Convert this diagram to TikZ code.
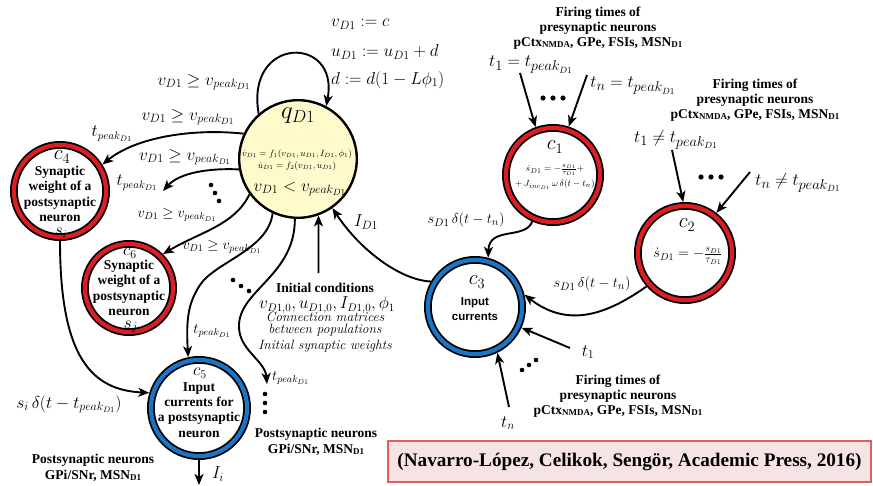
\documentclass[tikz,border=0pt]{standalone}
\usepackage{fontspec}
\usepackage{amsmath}
\usetikzlibrary{arrows.meta}
\newfontfamily\tms{Liberation Serif}
\newfontfamily\arl{Liberation Sans}
\newcommand\fsz[2]{\fontsize{#1}{#2}\selectfont}
\newcommand\vpk{v_{peak_{D1}}}
\newcommand\tpk{t_{peak_{D1}}}
\newcommand\lowsc[1]{\raisebox{-1.3pt}{\fsz{9}{9}#1}}
\definecolor{ringred}{RGB}{220,30,36}
\definecolor{ringblue}{RGB}{27,117,196}
\definecolor{qfill}{RGB}{255,250,204}
\definecolor{citefill}{RGB}{246,228,228}
\definecolor{citeline}{RGB}{224,96,96}
\tikzset{
  every node/.style={inner sep=0pt},
  arr/.style={-{Stealth[length=11pt,width=9pt,inset=3pt]}, line width=1.9pt},
  bold/.style={font=\tms\bfseries\fsz{13.5}{15.3}, align=center},
  sansbold/.style={font=\arl\bfseries\fsz{11.5}{15.5}, align=center},
  mlab/.style={font=\fsz{#1}{#1}},
  itlab/.style={font=\itshape\fsz{13.5}{12}, align=center},
  ring/.style={circle, draw=black, line width=1.8pt, double=#1,
    double distance=4.2pt, inner sep=0pt, outer sep=3.9pt},
  redring/.style={ring=ringred, minimum size=#1},
  bluering/.style={ring=ringblue, minimum size=#1},
  qstate/.style={circle, draw=black, line width=2.4pt, fill=qfill,
    minimum size=117.6pt, inner sep=0pt},
  citebox/.style={draw=citeline, line width=1.2pt, fill=citefill,
    minimum width=483pt, minimum height=41pt,
    font=\tms\bfseries\fsz{19.2}{20}},
  dot/.style={fill=black}
}
\begin{document}
\begin{tikzpicture}[x=1pt,y=-1pt]
\useasboundingbox (0,0) rectangle (873,485);

% ---------------- states ----------------
\node[qstate] (q) at (298,159) {};
\node[mlab=23] (qname) at (298,116) {$q_{D1}$};
\node[font=\fsz{9}{11.5}, align=center] (qeq) at (297,160)
  {$\dot v_{D1}=f_1(v_{D1},u_{D1},I_{D1},\phi_1)$\\$\dot u_{D1}=f_2(v_{D1},u_{D1})$};
\node[mlab=18] (qinv) at (300,189) {$v_{D1}<\vpk$};

\node[redring=92.2pt] (c4) at (60,191) {};
\node[mlab=22] (c4n) at (62,157) {$c_4$};
\node[bold] (c4t) at (60,194) {Synaptic\\weight of a\\postsynaptic\\neuron};
\node[mlab=17] (c4s) at (61,233) {$s_i$};

\node[redring=88.2pt] (c6) at (129,288) {};
\node[mlab=18] (c6n) at (130,253) {$c_6$};
\node[bold] (c6t) at (129,288) {Synaptic\\weight of a\\postsynaptic\\neuron};
\node[mlab=17] (c6s) at (131,327) {$s_j$};

\node[bluering=96.2pt] (c5) at (199,408) {};
\node[mlab=18] (c5n) at (200,373) {$c_5$};
\node[bold] (c5t) at (199,410) {Input\\currents for\\a postsynaptic\\neuron};

\node[bluering=94.2pt] (c3) at (475,307) {};
\node[mlab=22] (c3n) at (477,282) {$c_3$};
\node[sansbold] (c3t) at (475,309) {Input\\currents};

\node[redring=94.2pt] (c1) at (553,175) {};
\node[mlab=22] (c1n) at (555,147) {$c_1$};
\node[font=\fsz{9.5}{15}, align=center] (c1eq) at (555,177)
  {$\dot s_{D1}=-\frac{s_{D1}}{\tau_{D1}}+$\\$+\,J_{inc_{D1}}\,\omega\,\delta(t-t_n)$};

\node[redring=94.2pt] (c2) at (685,253) {};
\node[mlab=22] (c2n) at (687,225) {$c_2$};
\node[mlab=14] (c2eq) at (688,256) {$\dot s_{D1}=-\frac{s_{D1}}{\tau_{D1}}$};

% ---------------- reset map of q ----------------
\draw[arr] (q.131) .. controls (245,35) and (340,35) .. (q.62);
\node[mlab=18, anchor=west] (r1) at (331,24) {$v_{D1}:=c$};
\node[mlab=18, anchor=west] (r2) at (331,52) {$u_{D1}:=u_{D1}+d$};
\node[mlab=18, anchor=west] (r3) at (331,80) {$d:=d(1-L\phi_1)$};
\node[mlab=18] (g0) at (204,82) {$v_{D1}\geq\vpk$};

% ---------------- outgoing spikes of q ----------------
\draw[arr] (q.155) .. controls (190,128) and (135,138) .. (c4.32);
\node[mlab=18] (g1) at (188,117) {$v_{D1}\geq\vpk$};
\node[mlab=16] (tp1) at (112,134) {$\tpk$};

\coordinate (e1) at (163,191);
\draw[arr] (q.190) .. controls (212,168) and (180,172) .. (e1);
\node[mlab=17] (g2) at (185,157) {$v_{D1}\geq\vpk$};
\node[mlab=16] (tp2) at (137,183) {$\tpk$};
\fill[dot] (211,185) circle[radius=2.3pt] (215,193) circle[radius=2.3pt] (219,201) circle[radius=2.3pt];
\node[mlab=14.5] (g3) at (177,215) {$v_{D1}\geq\vpk$};

\draw[arr] (q.216) .. controls (235,225) and (200,232) .. (c6.45);
\node[mlab=14] (g4) at (222,247) {$v_{D1}\geq\vpk$};

\draw[arr] (q.245) .. controls (268,250) and (215,262) .. (200,285)
  .. controls (188,303) and (186,320) .. (c5.102);
\node[mlab=14] (tp3) at (212,331) {$\tpk$};
\fill[dot] (233,280) circle[radius=2.3pt] (241,286) circle[radius=2.3pt] (249,291) circle[radius=2.3pt];

\coordinate (e2) at (267,384);
\draw[arr] (q.267) .. controls (295,275) and (240,290) .. (239,325)
  .. controls (238,350) and (265,360) .. (e2);
\node[mlab=14, anchor=west] (tp4) at (272,378) {$\tpk$};
\fill[dot] (265,394) circle[radius=2.3pt] (265,403) circle[radius=2.3pt] (265,412) circle[radius=2.3pt];
\node[bold] (post2) at (316,442) {Postsynaptic neurons\\GPi/SNr, MSN\lowsc{D1}};

% ---------------- initial conditions ----------------
\coordinate (ic) at (318.5,273);
\draw[arr] (ic) -- (q.290);
\node[bold] (init) at (325,288) {Initial conditions};
\node[mlab=16] (initv) at (327,305) {$v_{D1,0},u_{D1,0},I_{D1,0},\phi_1$};
\node[itlab] (initc) at (325,324) {Connection matrices\\between populations};
\node[itlab] (initw) at (325,346) {Initial synaptic weights};

% ---------------- input current to q ----------------
\draw[arr] (c3.150) .. controls (400,280) and (360,250) .. (q.305);
\node[mlab=17] (idl) at (366,222) {$I_{D1}$};

% ---------------- synapse dynamics ----------------
\draw[arr] (c1.246) .. controls (525,240) and (489,226) .. (c3.75);
\node[mlab=15] (sd1) at (466,220) {$s_{D1}\,\delta(t-t_n)$};
\draw[arr] (c2.221) .. controls (610,312) and (570,330) .. (c3.14);
\node[mlab=15] (sd2) at (592,284) {$s_{D1}\,\delta(t-t_n)$};

% presynaptic firing into c1
\node[bold] (fire1) at (598,28) {Firing times of\\presynaptic neurons\\pCtx\lowsc{NMDA}, GPe, FSIs, MSN\lowsc{D1}};
\node[mlab=19] (t1e) at (531,65) {$t_1=\tpk$};
\node[mlab=19] (tne) at (633,86) {$t_n=\tpk$};
\coordinate (ta1) at (520,73);
\coordinate (ta2) at (587,75);
\draw[arr] (ta1) -- (c1.110);
\draw[arr] (ta2) -- (c1.72);
\fill[dot] (543,98) circle[radius=2.6pt] (553,98) circle[radius=2.6pt] (563,98) circle[radius=2.6pt];

% presynaptic firing into c2
\node[bold] (fire2) at (755,100) {Firing times of\\presynaptic neurons\\pCtx\lowsc{NMDA}, GPe, FSIs, MSN\lowsc{D1}};
\node[mlab=19] (t1n) at (676,140) {$t_1\neq\tpk$};
\node[mlab=19] (tnn) at (798,183) {$t_n\neq\tpk$};
\coordinate (tb1) at (672,150);
\coordinate (tb2) at (750,172);
\draw[arr] (tb1) -- (c2.92);
\draw[arr] (tb2) -- (c2.52);
\fill[dot] (701,177) circle[radius=2.6pt] (711,177) circle[radius=2.6pt] (721,177) circle[radius=2.6pt];

% presynaptic firing into c3
\coordinate (tc1) at (570,348);
\coordinate (tcn) at (509,407);
\draw[arr] (tc1) -- (c3.-24);
\draw[arr] (tcn) -- (c3.-64);
\node[mlab=18] (t1c) at (588,352) {$t_1$};
\node[mlab=18] (tnc) at (508,423) {$t_n$};
\fill[dot] (522,370) circle[radius=2.3pt] (529,365) circle[radius=2.3pt] (536,360) circle[radius=2.3pt];
\node[bold] (fire3) at (618,396) {Firing times of\\presynaptic neurons\\pCtx\lowsc{NMDA}, GPe, FSIs, MSN\lowsc{D1}};

% ---------------- postsynaptic side ----------------
\draw[arr] (c4.270) .. controls (60,358) and (92,390) .. (c5.163);
\node[mlab=17] (sid) at (69,404) {$s_i\,\delta(t-\tpk)$};
\coordinate (ii) at (199,485);
\draw[arr] (c5.south) -- (ii);
\node[mlab=18] (iil) at (218,474) {$I_i$};
\node[bold] (post1) at (93,468) {Postsynaptic neurons\\GPi/SNr, MSN\lowsc{D1}};

% ---------------- reference ----------------
\node[citebox] (cite) at (629.5,461.5) {(Navarro-López, Celikok, Sengör, Academic Press, 2016)};
\end{tikzpicture}
\end{document}
